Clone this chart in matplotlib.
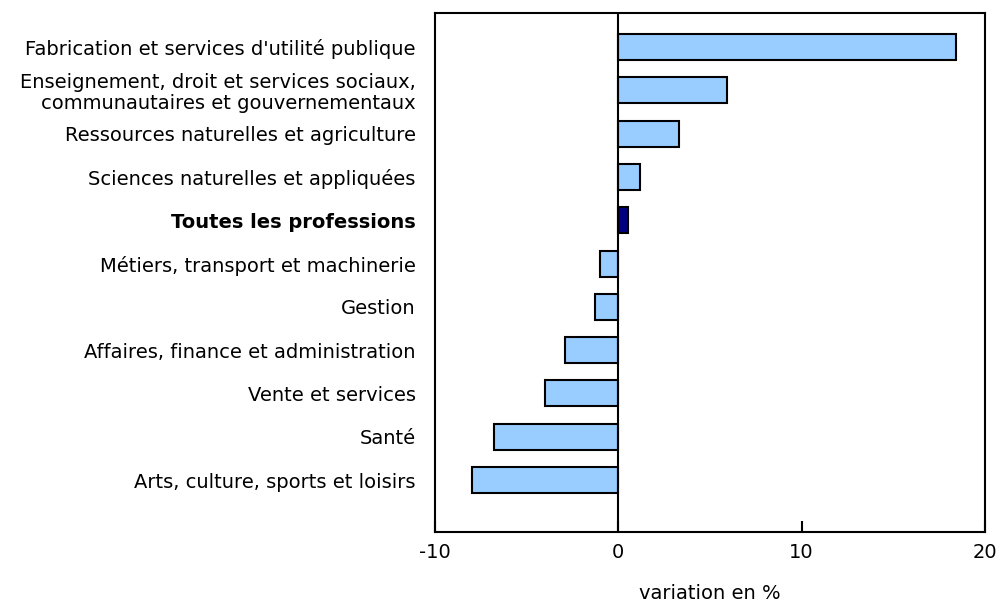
import matplotlib
matplotlib.use('Agg')
from matplotlib import pyplot as plt

categories = [
    "Fabrication et services d'utilité publique",
    "Enseignement, droit et services sociaux,\ncommunautaires et gouvernementaux",
    "Ressources naturelles et agriculture",
    "Sciences naturelles et appliquées",
    "Toutes les professions",
    "Métiers, transport et machinerie",
    "Gestion",
    "Affaires, finance et administration",
    "Vente et services",
    "Santé",
    "Arts, culture, sports et loisirs",
]
values = [18.4, 5.9, 3.3, 1.2, 0.5, -1.0, -1.3, -2.9, -4.0, -6.8, -8.0]
highlight = "Toutes les professions"
xticks = [-10, 0, 10, 20]

plt.rcParams['font.family'] = ['DejaVu Sans']
fs = 14

fig = plt.figure(figsize=(10, 6.02), dpi=100)
ax = fig.add_axes([0.435, 0.1163, 0.55, 0.8617])

ypos = list(range(len(categories)))
colors = ['#000080' if c == highlight else '#99ccff' for c in categories]
ax.barh(ypos, values, height=0.6, color=colors, edgecolor='black', linewidth=1.5, zorder=2)
ax.axvline(0, color='black', linewidth=1.5, zorder=3)

ax.set_xlim(-10, 20)
ax.set_ylim(len(categories) - 1 + 1.2, -0.78)
ax.set_xticks(xticks)
ax.set_xticklabels([str(t) for t in xticks], fontsize=fs)
ax.tick_params(axis='x', direction='in', length=8, width=1.5, pad=8)
ax.set_yticks(ypos)
ax.set_yticklabels(categories, fontsize=fs, linespacing=1.1)
ax.tick_params(axis='y', length=0, pad=14)
for lbl in ax.get_yticklabels():
    if lbl.get_text() == highlight:
        lbl.set_fontweight('bold')
for s in ax.spines.values():
    s.set_linewidth(1.5)

ax.set_xlabel('variation en %', fontsize=fs, labelpad=16)

fig.savefig('out.png', dpi=100)
